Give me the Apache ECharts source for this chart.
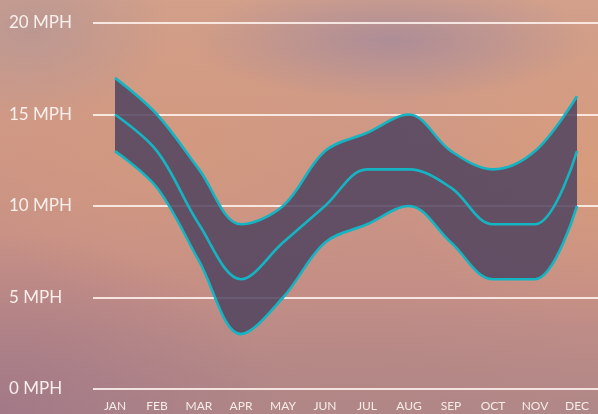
<!DOCTYPE html>
<html>
<head>
<meta charset="utf-8">
<script src="https://cdn.jsdelivr.net/npm/echarts@6/dist/echarts.min.js"></script>
<style>
  html, body { margin: 0; padding: 0; }
  #chart {
    width: 598px;
    height: 414px;
    /* blurred photo backdrop, approximated with gradients */
    background:
      radial-gradient(ellipse 200px 60px at 390px 40px, rgba(158,134,156,0.7), rgba(158,134,156,0)),
      radial-gradient(ellipse 140px 90px at 30px 30px, rgba(182,150,148,0.8), rgba(182,150,148,0)),
      radial-gradient(ellipse 200px 160px at 590px 170px, rgba(222,160,120,0.6), rgba(222,160,120,0)),
      radial-gradient(ellipse 220px 170px at 180px 140px, rgba(214,154,124,0.6), rgba(214,154,124,0)),
      radial-gradient(ellipse 280px 180px at 0px 414px, rgba(160,118,135,0.85), rgba(160,118,135,0)),
      radial-gradient(ellipse 300px 120px at 350px 414px, rgba(176,132,132,0.6), rgba(176,132,132,0)),
      linear-gradient(180deg, #d2a08b 0%, #cd9684 40%, #c48e86 70%, #b08888 100%);
  }
</style>
</head>
<body>
<div id="chart"></div>
<script>
const months = ['JAN', 'FEB', 'MAR', 'APR', 'MAY', 'JUN', 'JUL', 'AUG', 'SEP', 'OCT', 'NOV', 'DEC']
const upper = [17, 15, 12, 9, 10, 13, 14, 15, 13, 12, 13, 16]
const middle = [15, 13, 9, 6, 8, 10, 12, 12, 11, 9, 9, 13]
const lower = [13, 11, 7, 3, 5, 8, 9, 10, 8, 6, 6, 10]

const lineColor = '#14b4c2'
const bandColor = 'rgba(80, 68, 96, 0.86)'
const labelFont = 'Lato, "Open Sans", sans-serif'
const smoothness = 0.35

const chart = echarts.init(document.getElementById('chart'), null, { renderer: 'canvas' })

const lineSeries = (name, data) => ({
  name,
  type: 'line',
  xAxisIndex: 1,
  yAxisIndex: 1,
  data,
  smooth: smoothness,
  symbol: 'none',
  silent: true,
  z: 5,
  lineStyle: { color: lineColor, width: 2.6 }
})

const option = {
  animation: false,
  backgroundColor: 'transparent',
  grid: [
    { left: 93, right: 0, top: 23, bottom: 25 },
    { left: 115, right: 21, top: 23, bottom: 25 }
  ],
  xAxis: [
    { gridIndex: 0, type: 'category', data: months, show: false },
    {
      gridIndex: 1,
      type: 'category',
      data: months,
      boundaryGap: false,
      axisLine: { show: false },
      axisTick: { show: false },
      axisLabel: {
        color: '#f6ece8',
        fontFamily: labelFont,
        fontSize: 12,
        margin: 11
      }
    }
  ],
  yAxis: [
    {
      gridIndex: 0,
      type: 'value',
      min: 0,
      max: 20,
      interval: 5,
      axisLine: { show: false },
      axisTick: { show: false },
      axisLabel: {
        color: '#f8f0ec',
        fontFamily: labelFont,
        fontSize: 17,
        align: 'left',
        margin: 84,
        formatter: '{value} MPH'
      },
      splitLine: { lineStyle: { color: 'rgba(255, 245, 240, 0.85)', width: 2 } }
    },
    { gridIndex: 1, type: 'value', min: 0, max: 20, interval: 5, show: false }
  ],
  series: [
    {
      name: 'base',
      type: 'line',
      xAxisIndex: 1,
      yAxisIndex: 1,
      stack: 'band',
      data: lower,
      smooth: smoothness,
      symbol: 'none',
      silent: true,
      lineStyle: { opacity: 0 }
    },
    {
      name: 'band',
      type: 'line',
      xAxisIndex: 1,
      yAxisIndex: 1,
      stack: 'band',
      data: upper.map((v, i) => v - lower[i]),
      smooth: smoothness,
      symbol: 'none',
      silent: true,
      lineStyle: { opacity: 0 },
      areaStyle: { color: bandColor, opacity: 1 }
    },
    lineSeries('lower', lower),
    lineSeries('middle', middle),
    lineSeries('upper', upper)
  ]
}

chart.setOption(option)
</script>
</body>
</html>
